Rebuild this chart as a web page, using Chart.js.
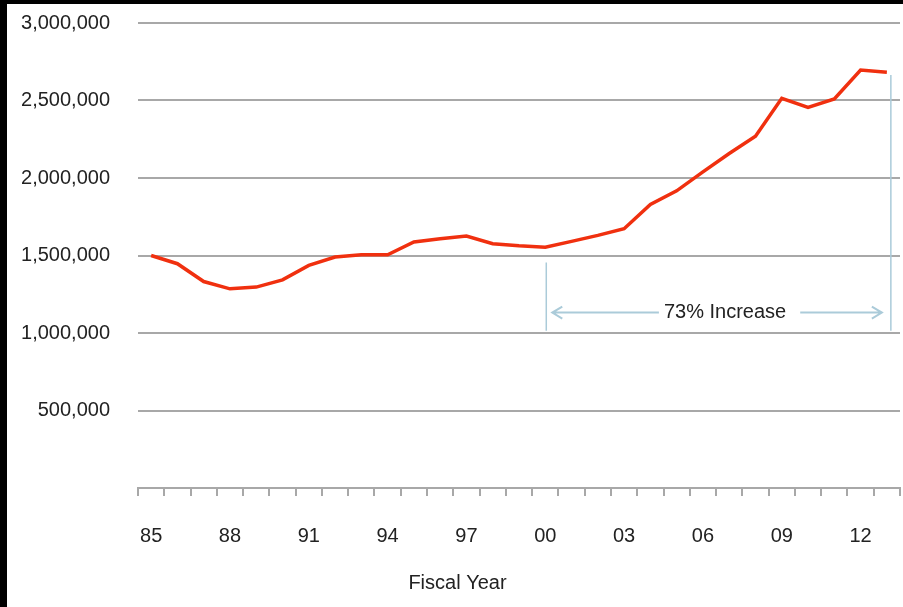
<!DOCTYPE html>
<html lang="en">

<head>
    <meta charset="UTF-8">
    <title>Fiscal Year Chart</title>
    <script src="https://cdn.jsdelivr.net/npm/chart.js"></script>
    <style>
        body { margin: 0; background: #000; }
        #wrap { position: absolute; left: 7px; top: 4px; width: 896px; height: 603px; background: #fff; }
    </style>
</head>

<body>
    <div id="wrap">
        <canvas id="myChart" width="896" height="603"></canvas>
    </div>

<script>
    const years = ['85', '86', '87', '88', '89', '90', '91', '92', '93', '94', '95', '96', '97', '98', '99',
        '00', '01', '02', '03', '04', '05', '06', '07', '08', '09', '10', '11', '12', '13'];
    const totals = [1500000, 1447000, 1332000, 1285000, 1296000, 1343000, 1436000, 1490000, 1505000, 1505000,
        1587000, 1608000, 1626000, 1576000, 1563000, 1554000, 1591000, 1630000, 1673000, 1830000,
        1917000, 2040000, 2158000, 2270000, 2514000, 2456000, 2510000, 2697000, 2682000];
    const yTicks = [0, 500000, 1000000, 1500000, 2000000, 2500000, 3000000];
    const spanYears = ['00', '13'];

    const textColor = '#222';
    const gridColor = '#a8a8a8';
    const bracketColor = '#abcbd9';
    const font = '"Liberation Sans", Arial, Helvetica, sans-serif';

    // bracket + arrow showing the increase between spanYears
    const increasePlugin = {
        id: 'increase',
        afterDatasetsDraw(chart) {
            const ctx = chart.ctx;
            const x = chart.scales.x;
            const y = chart.scales.y;
            const i0 = years.indexOf(spanYears[0]);
            const i1 = years.indexOf(spanYears[1]);
            const xa = x.getPixelForValue(i0) + 1;
            const xb = x.getPixelForValue(i1) + 4;
            const yBottom = y.getPixelForValue(1015000);
            const yArrow = y.getPixelForValue(1132000);
            const pct = Math.round((totals[i1] / totals[i0] - 1) * 100);
            const label = pct + '% Increase';

            ctx.save();
            ctx.strokeStyle = bracketColor;
            ctx.lineWidth = 1.5;
            ctx.beginPath();
            ctx.moveTo(xa, y.getPixelForValue(1455000));
            ctx.lineTo(xa, yBottom);
            ctx.moveTo(xb, y.getPixelForValue(2665000));
            ctx.lineTo(xb, yBottom);
            ctx.stroke();

            ctx.font = '20px ' + font;
            ctx.fillStyle = textColor;
            ctx.textAlign = 'center';
            ctx.textBaseline = 'middle';
            const ax1 = xa + 6;
            const ax2 = xb - 9;
            const tx = (ax1 + ax2) / 2 + 8;
            const tw = ctx.measureText(label).width;
            ctx.fillText(label, tx, yArrow);

            ctx.lineWidth = 2;
            ctx.beginPath();
            ctx.moveTo(ax1, yArrow);
            ctx.lineTo(tx - tw / 2 - 5, yArrow);
            ctx.moveTo(tx + tw / 2 + 14, yArrow);
            ctx.lineTo(ax2, yArrow);
            // arrow heads
            ctx.moveTo(ax1 + 10, yArrow - 6);
            ctx.lineTo(ax1, yArrow);
            ctx.lineTo(ax1 + 10, yArrow + 6);
            ctx.moveTo(ax2 - 10, yArrow - 6);
            ctx.lineTo(ax2, yArrow);
            ctx.lineTo(ax2 - 10, yArrow + 6);
            ctx.stroke();
            ctx.restore();
        }
    };

    const ctx = document.getElementById('myChart').getContext('2d');
    const chart = new Chart(ctx, {
        type: 'line',
        data: {
            labels: years,
            datasets: [{
                data: totals,
                borderColor: '#f0300f',
                borderWidth: 3.5,
                pointRadius: 0,
                tension: 0
            }]
        },
        options: {
            responsive: false,
            animation: false,
            layout: { padding: { left: 8, right: 3, top: 19, bottom: 0 } },
            plugins: {
                legend: { display: false },
                tooltip: { enabled: false },
                title: {
                    display: true,
                    text: 'Fiscal Year',
                    position: 'bottom',
                    color: textColor,
                    font: { family: font, size: 20, weight: 'normal' },
                    padding: { top: 0, bottom: 12 }
                }
            },
            scales: {
                x: {
                    offset: true,
                    afterFit: (scale) => {
                        scale.height = 83;
                        scale.paddingLeft = 0;
                        scale.paddingRight = 0;
                    },
                    grid: {
                        offset: true,
                        drawOnChartArea: false,
                        drawTicks: true,
                        tickLength: 8,
                        color: gridColor,
                        lineWidth: 2
                    },
                    border: { display: true, color: gridColor, width: 2 },
                    ticks: {
                        autoSkip: false,
                        maxRotation: 0,
                        padding: 28,
                        color: textColor,
                        font: { family: font, size: 20 },
                        callback: (value, index) => index % 3 === 0 ? years[index] : ''
                    }
                },
                y: {
                    min: yTicks[0],
                    max: yTicks[yTicks.length - 1],
                    afterFit: (scale) => {
                        scale.width = 123;
                        scale.paddingTop = 0;
                        scale.paddingBottom = 0;
                    },
                    afterBuildTicks: (scale) => { scale.ticks = yTicks.map(v => ({ value: v })); },
                    grid: {
                        drawTicks: false,
                        color: gridColor,
                        lineWidth: 2
                    },
                    border: { display: false },
                    ticks: {
                        padding: 28,
                        color: textColor,
                        font: { family: font, size: 20 },
                        callback: (value) => value === 0 ? null : value.toLocaleString('en-US')
                    }
                }
            }
        },
        plugins: [increasePlugin]
    });
</script>
</body>

</html>
